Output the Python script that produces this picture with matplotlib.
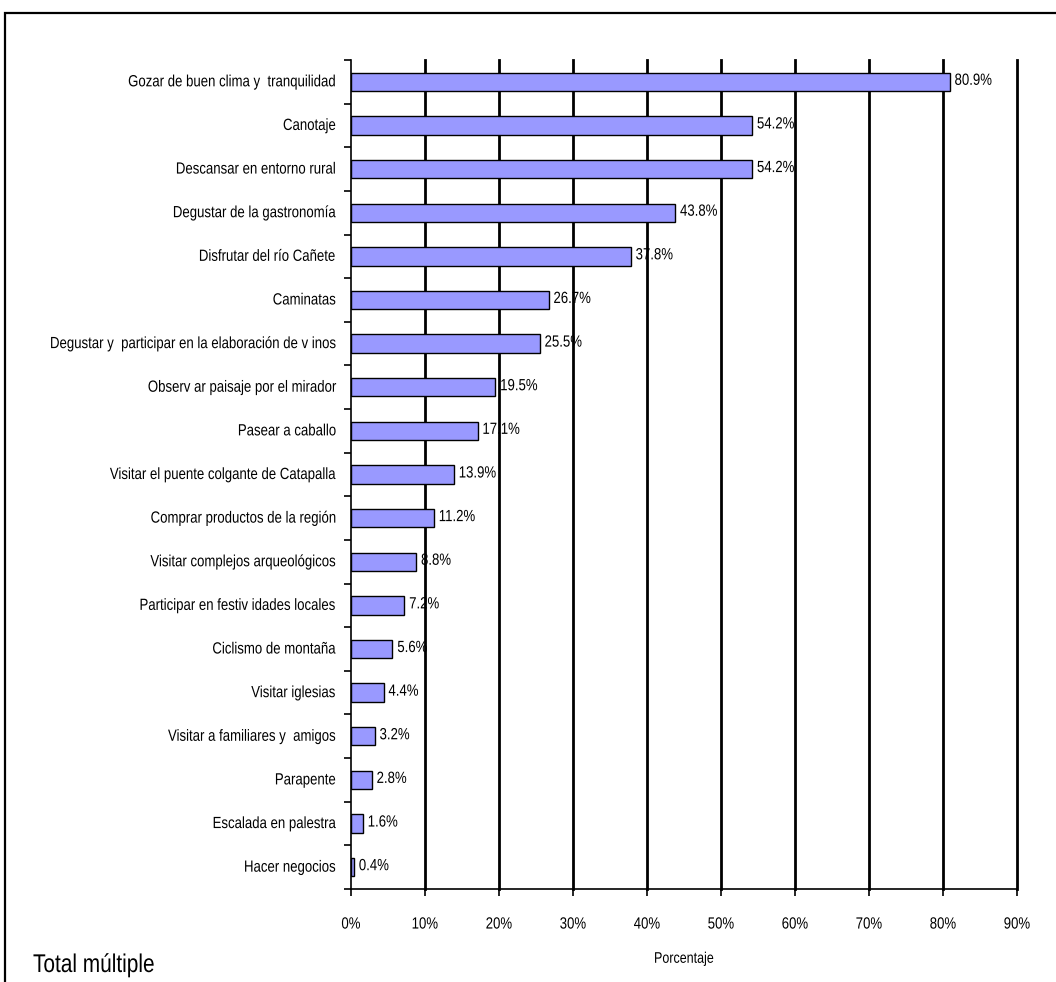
import numpy as np
import matplotlib
matplotlib.use("Agg")
import matplotlib.pyplot as plt
import matplotlib.patheffects as pe
from matplotlib.patches import Rectangle
from matplotlib.text import Text
from matplotlib.transforms import Affine2D

plt.rcParams['font.family'] = ['Liberation Sans', 'DejaVu Sans']


class Stretch(pe.AbstractPathEffect):
    '''alarga el texto en vertical (letra estrecha tipo Arial Narrow)'''

    def __init__(self, sy):
        super().__init__()
        self.sy = sy

    def draw_path(self, renderer, gc, tpath, affine, rgbFace=None):
        renderer.draw_path(gc, tpath, Affine2D().scale(1, self.sy) + affine, rgbFace)


actividades = [
    "Gozar de buen clima y  tranquilidad",
    "Canotaje",
    "Descansar en entorno rural",
    "Degustar de la gastronomía",
    "Disfrutar del río Cañete",
    "Caminatas",
    "Degustar y  participar en la elaboración de v inos",
    "Observ ar paisaje por el mirador",
    "Pasear a caballo",
    "Visitar el puente colgante de Catapalla",
    "Comprar productos de la región",
    "Visitar complejos arqueológicos",
    "Participar en festiv idades locales",
    "Ciclismo de montaña",
    "Visitar iglesias",
    "Visitar a familiares y  amigos",
    "Parapente",
    "Escalada en palestra",
    "Hacer negocios",
]
porcentajes = [80.9, 54.2, 54.2, 43.8, 37.8, 26.7, 25.5, 19.5, 17.1, 13.9,
               11.2, 8.8, 7.2, 5.6, 4.4, 3.2, 2.8, 1.6, 0.4]
ticks_x = [0, 10, 20, 30, 40, 50, 60, 70, 80, 90]

fig = plt.figure(figsize=(10.56, 9.82), dpi=100)
ax = fig.add_axes([0.3324, 0.0947, 0.6307, 0.8442])

# marco exterior del grafico
fig.patches.append(Rectangle((5 / 1056, -0.1), 1.2, 1 - 13 / 982 + 0.1,
                             transform=fig.transFigure, fill=False,
                             edgecolor='black', linewidth=1.6))

y = np.arange(len(actividades))
for xv in ticks_x[1:]:
    ax.axvline(xv, color='black', linewidth=2.0, zorder=1, clip_on=False)

ax.barh(y, porcentajes, height=0.42, color='#9999FF', edgecolor='black',
        linewidth=1.0, zorder=3)
for yi, v in zip(y, porcentajes):
    ax.annotate(f"{v:.1f}%", (v, yi), xytext=(3.5, 0), textcoords='offset points',
                va='center', ha='left', fontsize=9.5, zorder=4)

ax.set_xlim(0, 90)
ax.set_ylim(len(actividades) - 0.5, -0.5)
ax.set_xticks(ticks_x)
ax.set_xticklabels([f"{t}%" for t in ticks_x], fontsize=9.5)
ax.set_yticks(y)
ax.set_yticklabels(actividades, fontsize=9.5)
ax.set_yticks(np.arange(len(actividades) + 1) - 0.5, minor=True)
ax.tick_params(axis='y', which='major', length=0, pad=11)
ax.tick_params(axis='y', which='minor', length=5, width=1.2, direction='out')
ax.tick_params(axis='x', length=5, width=1.2, direction='out', pad=17)
for s in ['top', 'right']:
    ax.spines[s].set_visible(False)
for s in ['left', 'bottom']:
    ax.spines[s].set_linewidth(1.2)

ax.set_xlabel("Porcentaje", fontsize=9, labelpad=16)
fig.text(33 / 1056, 1 - 972 / 982, "Total múltiple", fontsize=15,
         va='baseline', ha='left')

fig.canvas.draw()
for t in fig.findobj(Text):
    t.set_path_effects([Stretch(1.23)])

fig.savefig("out.png", dpi=100)
